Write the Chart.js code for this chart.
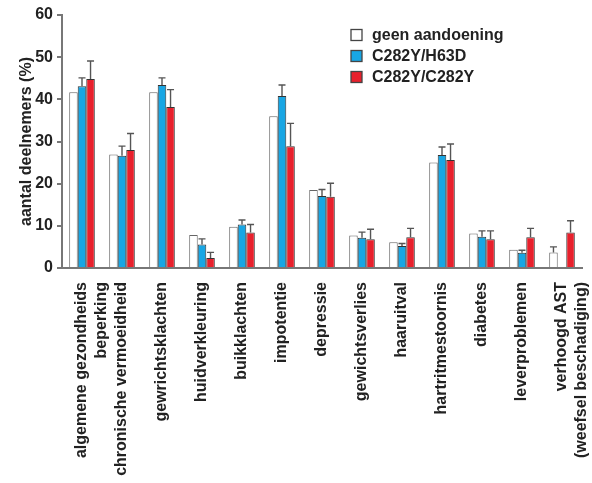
<!DOCTYPE html>
<html>
<head>
<meta charset="utf-8">
<script src="https://cdn.jsdelivr.net/npm/chart.js@4"></script>
<style>
  html, body { margin: 0; padding: 0; background: #fff; }
  #wrap { width: 592px; height: 483px; }
</style>
</head>
<body>
<div id="wrap"><canvas id="chart" width="592" height="483"></canvas></div>
<script>
// categorieën
const categories = [
  ['algemene gezondheids', 'beperking'],
  'chronische vermoeidheid',
  'gewrichtsklachten',
  'huidverkleuring',
  'buikklachten',
  'impotentie',
  'depressie',
  'gewichtsverlies',
  'haaruitval',
  'hartritmestoornis',
  'diabetes',
  'leverproblemen',
  ['verhoogd AST', '(weefsel beschadiging)']
];
const seriesNames = ['geen aandoening', 'C282Y/H63D', 'C282Y/C282Y'];

// percentages per groep
const geen    = [41.7, 26.9, 41.7, 7.8, 9.8, 36.0, 18.5, 7.7, 6.1, 25.0, 8.2, 4.3, 3.7];
const h63d    = [43.1, 26.6, 43.4, 5.6, 10.3, 40.8, 17.1, 7.2, 5.2, 26.8, 7.4, 3.6, null];
const c282y   = [44.8, 28.0, 38.2, 2.4, 8.4, 28.9, 16.9, 6.8, 7.3, 25.6, 6.8, 7.3, 8.4];

// bovenkant foutbalken (null = geen)
const geenErr  = [null, null, null, null, null, null, null, null, null, null, null, null, 5.0];
const h63dErr  = [45.1, 28.9, 45.1, 6.9, 11.4, 43.4, 18.6, 8.5, 5.8, 28.7, 8.8, 4.2, null];
const c282yErr = [49.1, 31.9, 42.3, 3.7, 10.3, 34.3, 20.1, 9.2, 9.4, 29.4, 8.8, 9.4, 11.2];

const yTicks = [0, 10, 20, 30, 40, 50, 60];

const errs = [geenErr, h63dErr, c282yErr];
const fills = ['#ffffff', '#18a6e4', '#e8202c'];
const borders = ['#666', '#333', '#333'];

const errorBars = {
  id: 'errorBars',
  afterDatasetsDraw(chart) {
    const ctx = chart.ctx, y = chart.scales.y;
    ctx.save();
    ctx.strokeStyle = '#555';
    ctx.lineWidth = 1.4;
    chart.data.datasets.forEach((ds, i) => {
      const meta = chart.getDatasetMeta(i);
      meta.data.forEach((bar, j) => {
        const top = errs[i][j];
        if (top == null || ds.data[j] == null) return;
        const yt = y.getPixelForValue(top);
        ctx.beginPath();
        ctx.moveTo(bar.x, bar.y);
        ctx.lineTo(bar.x, yt);
        ctx.moveTo(bar.x - 3.5, yt);
        ctx.lineTo(bar.x + 3.5, yt);
        ctx.stroke();
      });
    });
    ctx.restore();
  }
};

const innerLegend = {
  id: 'innerLegend',
  afterDraw(chart) {
    const ctx = chart.ctx;
    ctx.save();
    ctx.font = 'bold 16px "Liberation Sans", Arial, sans-serif';
    ctx.textBaseline = 'middle';
    chart.data.datasets.forEach((ds, i) => {
      const cy = 35 + i * 21;
      ctx.fillStyle = ds.backgroundColor;
      ctx.strokeStyle = '#444';
      ctx.lineWidth = 1.3;
      ctx.fillRect(351, cy - 5.5, 11, 11);
      ctx.strokeRect(351, cy - 5.5, 11, 11);
      ctx.fillStyle = '#222';
      ctx.fillText(ds.label, 372, cy + 1);
    });
    ctx.restore();
  }
};

new Chart(document.getElementById('chart'), {
  type: 'bar',
  data: {
    labels: categories,
    datasets: [geen, h63d, c282y].map((d, i) => ({
      label: seriesNames[i],
      data: d,
      backgroundColor: fills[i],
      borderColor: borders[i],
      borderWidth: 1,
      categoryPercentage: 0.64,
      barPercentage: 1
    }))
  },
  options: {
    responsive: false,
    animation: false,
    layout: { padding: { top: 15, right: 10, bottom: 0, left: 0 } },
    plugins: { legend: { display: false }, tooltip: { enabled: false } },
    scales: {
      x: {
        grid: { display: false, drawTicks: false },
        border: { display: true, color: '#777', width: 2 },
        ticks: {
          color: '#222',
          font: { family: '"Liberation Sans", Arial, sans-serif', size: 16, weight: 'bold', lineHeight: 1.25 },
          minRotation: 90, maxRotation: 90, autoSkip: false, padding: 14
        },
        afterFit(s) { s.height = 215; s.paddingLeft = 0; s.paddingRight = 0; }
      },
      y: {
        min: 0, max: 60,
        afterBuildTicks(s) { s.ticks = yTicks.map(v => ({ value: v })); },
        grid: { drawOnChartArea: false, drawTicks: true, tickLength: 5, color: '#777', lineWidth: 2 },
        border: { display: true, color: '#777', width: 2 },
        ticks: {
          color: '#222',
          font: { family: '"Liberation Sans", Arial, sans-serif', size: 16, weight: 'bold' },
          padding: 4
        },
        title: {
          display: true,
          text: 'aantal deelnemers (%)',
          color: '#222',
          font: { family: '"Liberation Sans", Arial, sans-serif', size: 16, weight: 'bold' },
          padding: { top: 17, bottom: 0 }
        },
        afterFit(s) { s.width = 62; }
      }
    }
  },
  plugins: [errorBars, innerLegend]
});
</script>
</body>
</html>
